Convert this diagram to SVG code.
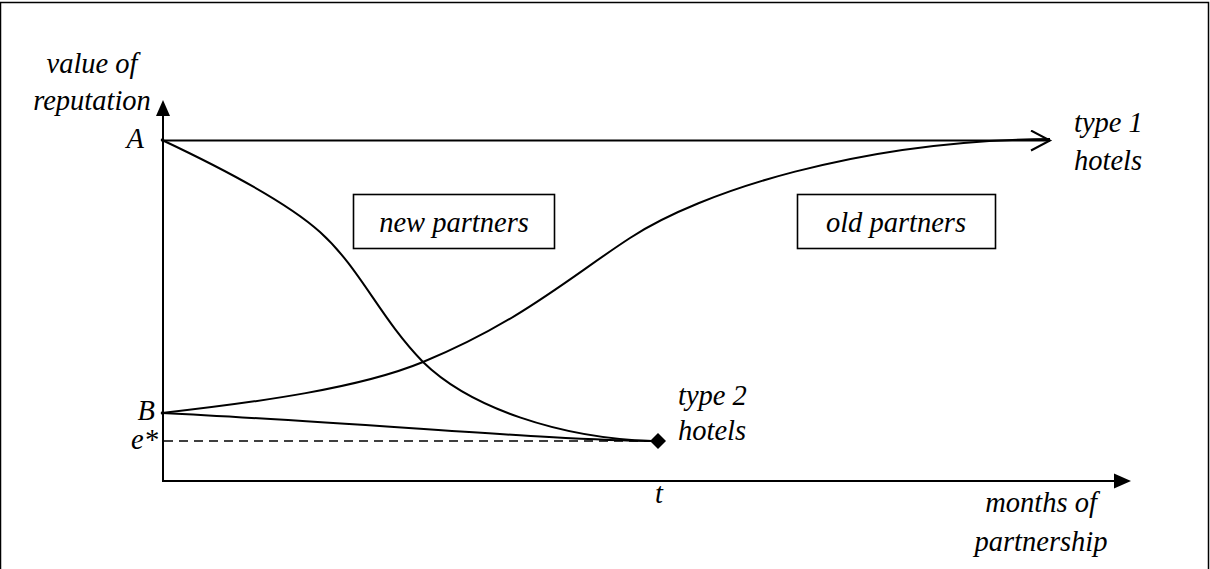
<svg xmlns="http://www.w3.org/2000/svg" width="1210" height="569" viewBox="0 0 1210 569">
  <style>
    .t { font-family: "Liberation Serif", "DejaVu Serif", serif; font-style: italic; font-size: 28.5px; fill: #000; }
    .ln { fill: none; stroke: #000; stroke-width: 2; }
    .box { fill: #fff; stroke: #000; stroke-width: 1.6; }
  </style>
  <defs>
    <marker id="open" markerWidth="24" markerHeight="24" refX="20" refY="11" orient="auto" markerUnits="userSpaceOnUse">
      <path d="M1,1 L20,11 L1,21" fill="none" stroke="#000" stroke-width="2"/>
    </marker>
  </defs>
  <rect x="0.5" y="2.5" width="1208" height="620" fill="#fff" stroke="#000" stroke-width="1.5"/>

  <g id="axes">
    <line class="ln" x1="163" y1="482" x2="163" y2="112"/>
    <polygon points="163,100 156,116 170,116" fill="#000"/>
    <line class="ln" x1="162" y1="481" x2="1116" y2="481"/>
    <polygon points="1131,481 1114,473.5 1114,488.5" fill="#000"/>
  </g>

  <g id="connectors">
    <path class="ln" d="M162,140.5 L1050,140.5" stroke-width="1.6" marker-end="url(#open)"/>
    <path class="ln" d="M162,413 C260,402 360,388 423,362 C520,322 570,277 630,238 C700,192 860,140 1050,139"/>
    <path class="ln" d="M162,140 C230,172 290,205 320,232 C360,268 380,318 423,362 C470,408 560,438 652,441"/>
    <path class="ln" d="M162,413 C350,422 560,441 652,441" stroke-width="1.7"/>
    <line x1="164" y1="441" x2="652" y2="441" stroke="#000" stroke-width="1.5" stroke-dasharray="9,6"/>
    <polygon points="658,433 666,441 658,449 650,441" fill="#000"/>
    <circle cx="162.5" cy="140" r="1.8" fill="#000"/>
    <circle cx="162.5" cy="413" r="1.8" fill="#000"/>
  </g>

  <g id="y-label">
    <text class="t" x="92" y="73" text-anchor="middle">value of</text>
    <text class="t" x="92" y="110" text-anchor="middle">reputation</text>
  </g>
  <g id="label-A"><text class="t" x="144" y="148" text-anchor="end">A</text></g>
  <g id="label-B"><text class="t" x="155" y="420" text-anchor="end">B</text></g>
  <g id="label-e"><text class="t" x="158" y="449" text-anchor="end">e*</text></g>

  <g id="new-partners">
    <rect class="box" x="353.5" y="194.5" width="201" height="54"/>
    <text class="t" x="454" y="232" text-anchor="middle">new partners</text>
  </g>
  <g id="old-partners">
    <rect class="box" x="797.5" y="194.5" width="198" height="54"/>
    <text class="t" x="896" y="232" text-anchor="middle">old partners</text>
  </g>

  <g id="type1">
    <text class="t" x="1074" y="132">type 1</text>
    <text class="t" x="1074" y="170">hotels</text>
  </g>
  <g id="type2">
    <text class="t" x="678" y="405">type 2</text>
    <text class="t" x="678" y="440">hotels</text>
  </g>
  <g id="label-t"><text class="t" x="659" y="503" text-anchor="middle">t</text></g>
  <g id="x-label">
    <text class="t" x="1041" y="512" text-anchor="middle">months of</text>
    <text class="t" x="1041" y="551" text-anchor="middle">partnership</text>
  </g>
</svg>
